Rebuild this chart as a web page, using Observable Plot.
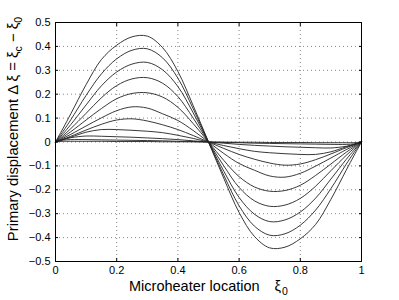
<!DOCTYPE html>
<html>
<head>
<meta charset="utf-8">
<script src="https://cdn.jsdelivr.net/npm/d3@7"></script>
<script src="https://cdn.jsdelivr.net/npm/@observablehq/plot@0.6"></script>
<style>
  html, body { margin: 0; padding: 0; background: #fff; }
  #chart { width: 399px; height: 300px; }
</style>
</head>
<body>
<div id="chart"></div>
<script>
// Microheater location xi_0 (sample positions)
const xi0 = [0, 0.025, 0.05, 0.1, 0.15, 0.2, 0.25, 0.3, 0.35, 0.4, 0.45, 0.5, 0.55, 0.6, 0.65, 0.7, 0.75, 0.8, 0.85, 0.9, 0.95, 0.975, 1];

// Primary displacement curves
const curve1  = [0, 0.058, 0.118, 0.240, 0.345, 0.405, 0.440, 0.443, 0.395, 0.295, 0.152, 0, -0.152, -0.295, -0.395, -0.443, -0.440, -0.405, -0.345, -0.240, -0.118, -0.058, 0];
const curve2  = [0, 0.045, 0.093, 0.195, 0.285, 0.348, 0.384, 0.390, 0.352, 0.267, 0.139, 0, -0.139, -0.267, -0.352, -0.390, -0.384, -0.348, -0.285, -0.195, -0.093, -0.045, 0];
const curve3  = [0, 0.035, 0.073, 0.155, 0.235, 0.293, 0.326, 0.333, 0.302, 0.232, 0.122, 0, -0.122, -0.232, -0.302, -0.333, -0.326, -0.293, -0.235, -0.155, -0.073, -0.035, 0];
const curve4  = [0, 0.027, 0.056, 0.120, 0.185, 0.236, 0.264, 0.269, 0.246, 0.190, 0.100, 0, -0.100, -0.190, -0.246, -0.269, -0.264, -0.236, -0.185, -0.120, -0.056, -0.027, 0];
const curve5  = [0, 0.021, 0.043, 0.092, 0.140, 0.181, 0.203, 0.206, 0.188, 0.145, 0.077, 0, -0.077, -0.145, -0.188, -0.206, -0.203, -0.181, -0.140, -0.092, -0.043, -0.021, 0];
const curve6  = [0, 0.016, 0.032, 0.067, 0.101, 0.131, 0.147, 0.142, 0.118, 0.090, 0.048, 0, -0.048, -0.090, -0.118, -0.142, -0.147, -0.131, -0.101, -0.067, -0.032, -0.016, 0];
const curve7  = [0, 0.012, 0.024, 0.050, 0.074, 0.092, 0.097, 0.088, 0.072, 0.052, 0.027, 0, -0.027, -0.052, -0.072, -0.088, -0.097, -0.092, -0.074, -0.050, -0.024, -0.012, 0];
const curve8  = [0, 0.010, 0.020, 0.041, 0.052, 0.052, 0.049, 0.045, 0.039, 0.028, 0.015, 0, -0.015, -0.028, -0.039, -0.045, -0.049, -0.052, -0.052, -0.041, -0.020, -0.010, 0];
const curve9  = [0, 0.011, 0.018, 0.025, 0.024, 0.022, 0.020, 0.017, 0.014, 0.010, 0.005, 0, -0.005, -0.010, -0.014, -0.017, -0.020, -0.022, -0.024, -0.025, -0.018, -0.011, 0];
const curve10 = [0, 0.008, 0.010, 0.010, 0.009, 0.008, 0.007, 0.006, 0.005, 0.003, 0.002, 0, -0.002, -0.003, -0.005, -0.006, -0.007, -0.008, -0.009, -0.010, -0.010, -0.008, 0];
const curve11 = [0, 0.003, 0.003, 0.003, 0.003, 0.002, 0.002, 0.002, 0.001, 0.001, 0.0005, 0, -0.0005, -0.001, -0.001, -0.002, -0.002, -0.002, -0.003, -0.003, -0.003, -0.003, 0];

const series = [curve1, curve2, curve3, curve4, curve5, curve6, curve7, curve8, curve9, curve10, curve11];

const xTicks = [0, 0.2, 0.4, 0.6, 0.8, 1];
const yTicks = [-0.5, -0.4, -0.3, -0.2, -0.1, 0, 0.1, 0.2, 0.3, 0.4, 0.5];

const rows = series.flatMap((vals, k) => vals.map((v, i) => ({x: xi0[i], y: v, s: k})));

const fmt = d => (d < 0 ? "\u2212" : "") + String(Math.abs(d));

const svg = Plot.plot({
  width: 399,
  height: 300,
  marginLeft: 55,
  marginRight: 38,
  marginTop: 22,
  marginBottom: 39,
  style: {fontFamily: "'Liberation Sans', Arial, Helvetica, sans-serif", fontSize: "11px", background: "#fff", color: "#000"},
  x: {domain: [0, 1]},
  y: {domain: [-0.5, 0.5]},
  marks: [
    Plot.gridX(xTicks, {stroke: "#888", strokeOpacity: 1, strokeDasharray: "1,3"}),
    Plot.gridY(yTicks, {stroke: "#888", strokeOpacity: 1, strokeDasharray: "1,3"}),
    Plot.line(rows, {x: "x", y: "y", z: "s", stroke: "#222", strokeWidth: 0.9, curve: "catmull-rom"}),
    Plot.frame({stroke: "#000", strokeWidth: 1}),
    Plot.axisX(xTicks, {anchor: "bottom", tickSize: -3, tickPadding: 8, tickFormat: fmt, label: null}),
    Plot.axisX(xTicks, {anchor: "top", tickSize: -3, tickFormat: () => "", label: null}),
    Plot.axisY(yTicks, {anchor: "left", tickSize: -3, tickPadding: 8, tickFormat: fmt, label: null}),
    Plot.axisY(yTicks, {anchor: "right", tickSize: -3, tickFormat: () => "", label: null})
  ]
});

document.getElementById("chart").appendChild(svg);

const s = d3.select(svg);
const font = "'Liberation Sans', Arial, Helvetica, sans-serif";

// x-axis title
const xt = s.append("text")
  .attr("x", 208.5)
  .attr("y", 290.5)
  .attr("text-anchor", "middle")
  .attr("font-family", font)
  .attr("font-size", 14.5)
  .attr("fill", "#000")
  .style("white-space", "pre");
xt.append("tspan").text("Microheater location");
xt.append("tspan").attr("dx", 15).text("\u03BE");
xt.append("tspan").attr("dy", 4).attr("dx", 1).attr("font-size", 10.5).text("0");

// y-axis title
const yt = s.append("text")
  .attr("transform", "translate(17.5,129) rotate(-90)")
  .attr("text-anchor", "middle")
  .attr("font-family", font)
  .attr("font-size", 14.8)
  .attr("fill", "#000")
  .style("white-space", "pre");
yt.append("tspan").text("Primary displacement \u0394 \u03BE = \u03BE");
yt.append("tspan").attr("dy", 4).attr("font-size", 10.5).text("c");
yt.append("tspan").attr("dy", -4).text(" \u2212 \u03BE");
yt.append("tspan").attr("dy", 4).attr("font-size", 10.5).text("0");
</script>
</body>
</html>
